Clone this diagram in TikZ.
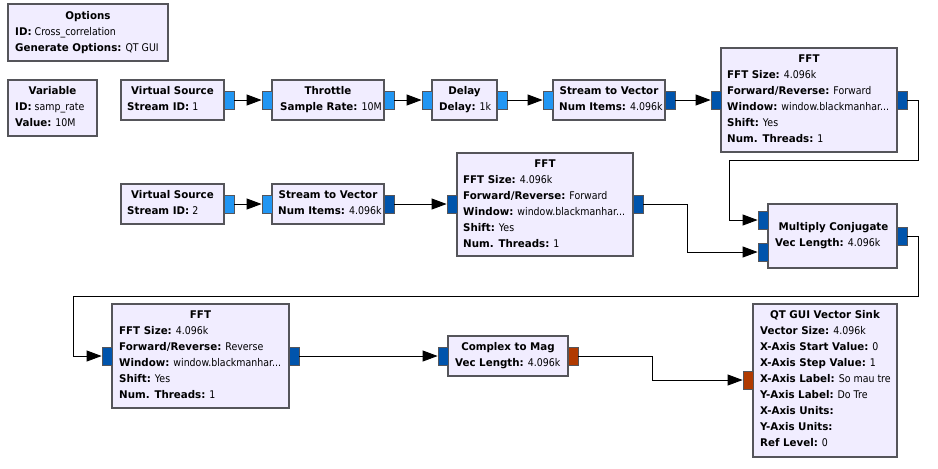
\documentclass[tikz,border=0pt]{standalone}
\usepackage{fontspec}
\setmainfont[FakeStretch=0.89,BoldFeatures={FakeStretch=0.97}]{DejaVu Sans}
\usetikzlibrary{arrows.meta}
\definecolor{blkfill}{RGB}{241,237,255}
\definecolor{blkline}{RGB}{85,85,90}
\definecolor{cplx}{RGB}{33,150,243}
\definecolor{cvec}{RGB}{0,84,172}
\definecolor{fvec}{RGB}{176,58,0}
\tikzset{
  blk/.style={draw=blkline,fill=blkfill,line width=1.1pt},
  portbox/.style={draw=blkline,line width=0.8pt,inner sep=0pt,minimum width=10pt,minimum height=18pt},
  pcx/.style={portbox,fill=cplx},
  pcv/.style={portbox,fill=cvec},
  pfv/.style={portbox,fill=fvec},
  txt/.style={inner sep=0pt,text height=7.8pt,text depth=0pt,font=\fontsize{10.6}{12}\selectfont},
  ttl/.style={txt,font=\fontsize{10.6}{12}\selectfont\bfseries},
  wire/.style={draw=black,line width=0.9pt,-{Triangle[length=15pt,width=11pt]}},
}
\newcommand{\kv}[2]{\textbf{#1} #2}
\begin{document}
\begin{tikzpicture}[x=1pt,y=-1pt]
\useasboundingbox[fill=white] (0,0) rectangle (938,469);
% ---------- Options
\draw[blk] (8,4) rectangle (168,61);
\node[ttl] (optT) at (88,15.5) {Options};
\node[txt,anchor=west] (opt1) at (15,31.5) {\kv{ID:}{Cross\_correlation}};
\node[txt,anchor=west] (opt2) at (15,47.5) {\kv{Generate Options:}{QT GUI}};
% ---------- Variable
\draw[blk] (8,80) rectangle (97,136);
\node[ttl] (varT) at (52.5,91) {Variable};
\node[txt,anchor=west] (var1) at (15,107) {\kv{ID:}{samp\_rate}};
\node[txt,anchor=west] (var2) at (15,123) {\kv{Value:}{10M}};
% ---------- Virtual Source 1
\draw[blk] (121,80) rectangle (224,120);
\node[ttl] (vs1T) at (172.5,91) {Virtual Source};
\node[txt,anchor=west] (vs1a) at (127,107) {\kv{Stream ID:}{1}};
\node[pcx] (vs1o) at (229,100) {};
% ---------- Throttle
\draw[blk] (272,80) rectangle (384,120);
\node[ttl] (thrT) at (328,91) {Throttle};
\node[txt,anchor=west] (thra) at (280,107) {\kv{Sample Rate:}{10M}};
\node[pcx] (thri) at (267,100) {};
\node[pcx] (thro) at (389,100) {};
% ---------- Delay
\draw[blk] (432,80) rectangle (497,120);
\node[ttl] (delT) at (464.5,91) {Delay};
\node[txt,anchor=west] (dela) at (439,107) {\kv{Delay:}{1k}};
\node[pcx] (deli) at (427,100) {};
\node[pcx] (delo) at (502,100) {};
% ---------- Stream to Vector 1
\draw[blk] (553,80) rectangle (665,120);
\node[ttl] (svaT) at (609,91) {Stream to Vector};
\node[txt,anchor=west] (svaa) at (559,107) {\kv{Num Items:}{4.096k}};
\node[pcx] (svai) at (548,100) {};
\node[pcv] (svao) at (670,100) {};
% ---------- FFT 1
\draw[blk] (721,48) rectangle (897,152);
\node[ttl] (faT) at (809,59) {FFT};
\node[txt,anchor=west] (fa1) at (727,75) {\kv{FFT Size:}{4.096k}};
\node[txt,anchor=west] (fa2) at (727,91) {\kv{Forward/Reverse:}{Forward}};
\node[txt,anchor=west] (fa3) at (727,107) {\kv{Window:}{window.blackmanhar...}};
\node[txt,anchor=west] (fa4) at (727,123) {\kv{Shift:}{Yes}};
\node[txt,anchor=west] (fa5) at (727,139) {\kv{Num. Threads:}{1}};
\node[pcv] (fai) at (716,100) {};
\node[pcv] (fao) at (902,100) {};
% ---------- Virtual Source 2
\draw[blk] (121,184) rectangle (224,224);
\node[ttl] (vs2T) at (172.5,195) {Virtual Source};
\node[txt,anchor=west] (vs2a) at (127,211) {\kv{Stream ID:}{2}};
\node[pcx] (vs2o) at (229,204) {};
% ---------- Stream to Vector 2
\draw[blk] (272,184) rectangle (384,224);
\node[ttl] (svbT) at (328,195) {Stream to Vector};
\node[txt,anchor=west] (svba) at (278,211) {\kv{Num Items:}{4.096k}};
\node[pcx] (svbi) at (267,204) {};
\node[pcv] (svbo) at (389,204) {};
% ---------- FFT 2
\draw[blk] (457,153) rectangle (633,256);
\node[ttl] (fbT) at (545,163.5) {FFT};
\node[txt,anchor=west] (fb1) at (463,179.5) {\kv{FFT Size:}{4.096k}};
\node[txt,anchor=west] (fb2) at (463,195.5) {\kv{Forward/Reverse:}{Forward}};
\node[txt,anchor=west] (fb3) at (463,211.5) {\kv{Window:}{window.blackmanhar...}};
\node[txt,anchor=west] (fb4) at (463,227.5) {\kv{Shift:}{Yes}};
\node[txt,anchor=west] (fb5) at (463,243.5) {\kv{Num. Threads:}{1}};
\node[pcv] (fbi) at (452,204) {};
\node[pcv] (fbo) at (638,204) {};
% ---------- Multiply Conjugate
\draw[blk] (768,204) rectangle (897,268);
\node[ttl] (mcT) at (833.5,227) {Multiply Conjugate};
\node[txt,anchor=west] (mca) at (775,243) {\kv{Vec Length:}{4.096k}};
\node[pcv] (mci1) at (763,220) {};
\node[pcv] (mci2) at (763,252) {};
\node[pcv] (mco) at (902,236) {};
% ---------- FFT 3
\draw[blk] (112,304) rectangle (289,408);
\node[ttl] (fcT) at (200.5,315) {FFT};
\node[txt,anchor=west] (fc1) at (119,331) {\kv{FFT Size:}{4.096k}};
\node[txt,anchor=west] (fc2) at (119,347) {\kv{Forward/Reverse:}{Reverse}};
\node[txt,anchor=west] (fc3) at (119,363) {\kv{Window:}{window.blackmanhar...}};
\node[txt,anchor=west] (fc4) at (119,379) {\kv{Shift:}{Yes}};
\node[txt,anchor=west] (fc5) at (119,395) {\kv{Num. Threads:}{1}};
\node[pcv] (fci) at (107,356) {};
\node[pcv] (fco) at (294,356) {};
% ---------- Complex to Mag
\draw[blk] (448,336) rectangle (568,376);
\node[ttl] (cmT) at (508,347) {Complex to Mag};
\node[txt,anchor=west] (cma) at (455,363) {\kv{Vec Length:}{4.096k}};
\node[pcv] (cmi) at (443,356) {};
\node[pfv] (cmo) at (573,356) {};
% ---------- QT GUI Vector Sink
\draw[blk] (753,304) rectangle (897,457);
\node[ttl] (skT) at (825,315) {QT GUI Vector Sink};
\node[txt,anchor=west] (sk1) at (760,331) {\kv{Vector Size:}{4.096k}};
\node[txt,anchor=west] (sk2) at (760,347) {\kv{X-Axis Start Value:}{0}};
\node[txt,anchor=west] (sk3) at (760,363) {\kv{X-Axis Step Value:}{1}};
\node[txt,anchor=west] (sk4) at (760,379) {\kv{X-Axis Label:}{So mau tre}};
\node[txt,anchor=west] (sk5) at (760,395) {\kv{Y-Axis Label:}{Do Tre}};
\node[txt,anchor=west] (sk6) at (760,411) {\kv{X-Axis Units:}{}};
\node[txt,anchor=west] (sk7) at (760,427) {\kv{Y-Axis Units:}{}};
\node[txt,anchor=west] (sk8) at (760,443) {\kv{Ref Level:}{0}};
\node[pfv] (ski) at (748,380) {};
% ---------- wires
\draw[wire] (vs1o.east) -- (thri.west);
\draw[wire] (thro.east) -- (deli.west);
\draw[wire] (delo.east) -- (svai.west);
\draw[wire] (svao.east) -- (fai.west);
\draw[wire] (vs2o.east) -- (svbi.west);
\draw[wire] (svbo.east) -- (fbi.west);
\draw[wire] (fao.east) -- ++(11,0) |- (729,160) |- (mci1.west);
\draw[wire] (fbo.east) -- (687,204) |- (mci2.west);
\draw[wire] (mco.east) -- ++(11,0) |- (73,296) |- (fci.west);
\draw[wire] (fco.east) -- (cmi.west);
\draw[wire] (cmo.east) -- (652,356) |- (ski.west);
\end{tikzpicture}
\end{document}
